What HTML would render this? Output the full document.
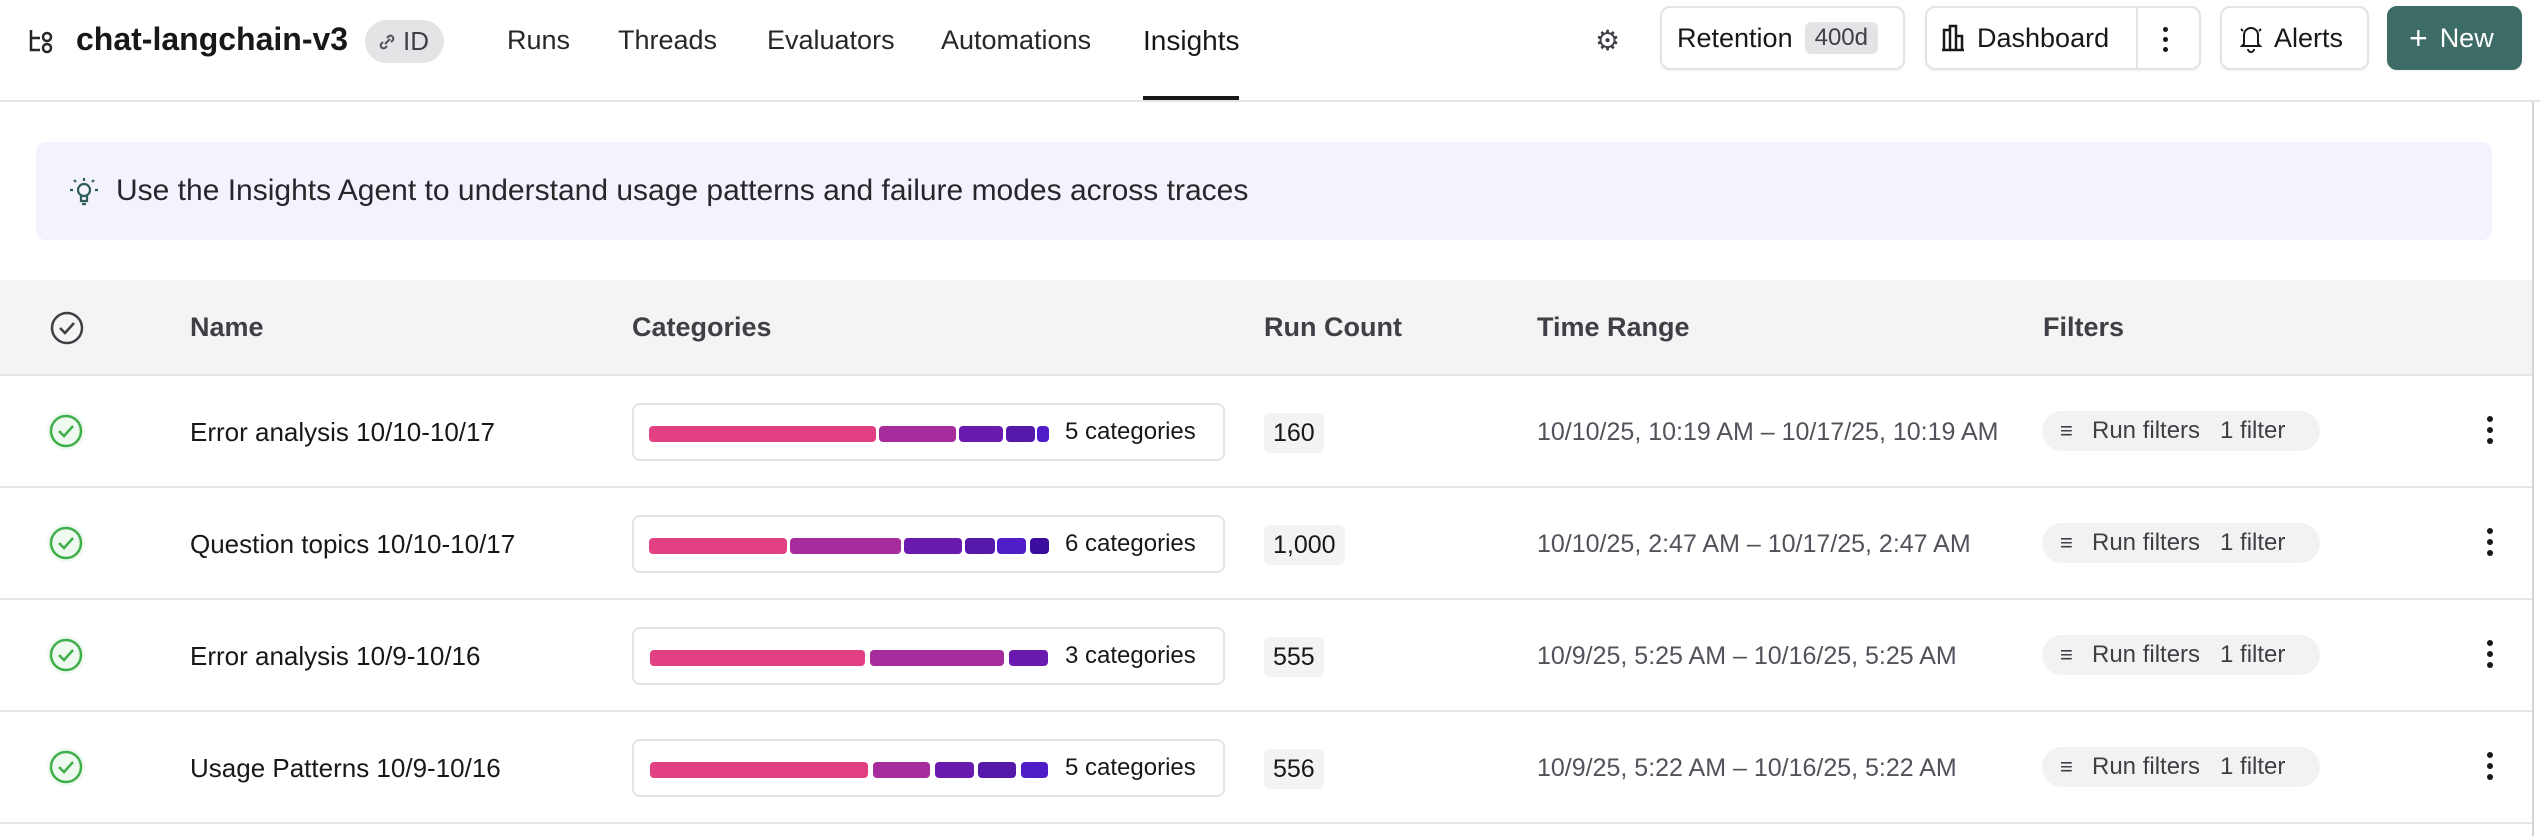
<!DOCTYPE html>
<html><head><meta charset="utf-8"><style>
*{box-sizing:border-box;margin:0;padding:0}
body{width:2540px;height:836px;background:#fff;font-family:"Liberation Sans",sans-serif;color:#18181b;position:relative;overflow:hidden}
.a{position:absolute;white-space:nowrap}
.nav{font-size:27px;top:25px;color:#27272a}
.btn{position:absolute;top:6px;height:64px;border:2px solid #e4e4e7;border-radius:10px;background:#fff;font-size:27px;display:flex;align-items:center;box-shadow:0 1px 2px rgba(0,0,0,.06)}
.th{position:absolute;top:312px;font-size:27px;color:#3f3f46;font-weight:bold}
.row{position:absolute;left:0;width:2532px;height:112px;border-bottom:2px solid #e6e6e6}
.cell{position:absolute;top:2px;height:109px;display:flex;align-items:center;font-size:26px;white-space:nowrap}
.box{position:absolute;left:632px;top:27px;width:593px;height:58px;border:2px solid #e4e4e7;border-radius:8px}
.seg{position:absolute;top:21px;height:16px;border-radius:4px}
.cnt{position:absolute;left:1264px;top:37px;height:40px;padding:0 9px;background:#f3f3f3;border-radius:6px;font-size:25px;line-height:40px}
.pill{position:absolute;left:2042px;top:35px;width:278px;height:40px;border-radius:20px;background:#f2f2f2;font-size:24px;color:#3f3f46;line-height:40px;padding-left:50px}
.kb{position:absolute;left:2487px;top:40px;width:7px}
.kb i{display:block;width:6px;height:6px;border-radius:3px;background:#18181b;margin-bottom:5px}
</style></head><body>
<svg class="a" style="left:28px;top:28px" width="28" height="26" viewBox="0 0 28 26" fill="none" stroke="#27272a" stroke-width="2.5"><path d="M3 2v20h9M3 10h9"/><circle cx="19" cy="9" r="4"/><circle cx="19" cy="20" r="4"/></svg>
<div class="a" style="left:76px;top:21px;font-size:32px;font-weight:bold">chat-langchain-v3</div>
<div class="a" style="left:365px;top:20px;width:79px;height:43px;border-radius:22px;background:#e4e4e7;font-size:26px;line-height:43px;padding-left:38px;color:#3f3f46">ID</div>
<svg class="a" style="left:376px;top:31px" width="22" height="22" viewBox="0 0 22 22" fill="none" stroke="#52525b" stroke-width="2"><path d="M9 13l5-5M7 11l-2 2a3 3 0 004 4l2-2M15 11l2-2a3 3 0 00-4-4l-2 2"/></svg>
<div class="a nav" style="left:507px">Runs</div>
<div class="a nav" style="left:618px">Threads</div>
<div class="a nav" style="left:767px">Evaluators</div>
<div class="a nav" style="left:941px">Automations</div>
<div class="a nav" style="left:1143px;color:#18181b;font-size:28px">Insights</div>
<div class="a" style="left:1143px;top:96px;width:96px;height:4px;background:#18181b"></div>
<div class="a" style="left:0;top:100px;width:2540px;height:2px;background:#e4e4e7"></div>
<div class="a" style="left:1595px;top:24px;font-size:28px;color:#3f3f46">⚙</div>
<div class="btn" style="left:1660px;width:245px;padding-left:15px">Retention<span style="margin-left:12px;background:#e4e4e7;border-radius:6px;padding:2px 10px;font-size:24px;color:#3f3f46">400d</span></div>
<div class="btn" style="left:1925px;width:276px;padding-left:14px"><svg width="26" height="28" viewBox="0 0 26 28" fill="none" stroke="#18181b" stroke-width="2.5"><path d="M3 26V6h6v20M9 26V2h6v24M15 26V12h6v14M1 26h22"/></svg><span style="margin-left:10px">Dashboard</span><span style="position:absolute;left:209px;top:0;width:2px;height:60px;background:#e4e4e7"></span><span style="position:absolute;left:236px;top:19px;width:6px"><i style="display:block;width:5px;height:5px;border-radius:3px;background:#18181b;margin-bottom:5px"></i><i style="display:block;width:5px;height:5px;border-radius:3px;background:#18181b;margin-bottom:5px"></i><i style="display:block;width:5px;height:5px;border-radius:3px;background:#18181b"></i></span></div>
<div class="btn" style="left:2220px;width:149px;padding-left:16px"><svg width="26" height="30" viewBox="0 0 26 30" fill="none" stroke="#18181b" stroke-width="2"><path d="M6 21V12a7 7 0 0114 0v9l2 2H4zM10 26a3 3 0 006 0M3 6l2 2M23 6l-2 2"/></svg><span style="margin-left:10px">Alerts</span></div>
<div class="btn" style="left:2387px;width:135px;background:#3d6b66;border-color:#3d6b66;color:#fff;padding-left:20px"><span style="font-size:32px;margin-right:12px">+</span>New</div>
<div class="a" style="left:36px;top:142px;width:2456px;height:98px;background:#f3f2fd;border-radius:10px"></div>
<svg class="a" style="left:70px;top:177px" width="28" height="30" viewBox="0 0 28 30" fill="none" stroke="#2f5d59" stroke-width="2.2"><circle cx="14" cy="13" r="6"/><path d="M11 19v5h6v-5M12 27h4M14 1v3M3 13H0M28 13h-3M6 5L4 3M22 5l2-2"/></svg>
<div class="a" style="left:116px;top:174px;font-size:30px;color:#27272a">Use the Insights Agent to understand usage patterns and failure modes across traces</div>
<div class="a" style="left:0;top:280px;width:2532px;height:96px;background:#f4f4f4;border-bottom:2px solid #e6e6e6"></div>
<svg class="a" style="left:49px;top:310px" width="36" height="36" viewBox="0 0 36 36" fill="none" stroke="#3f3f46" stroke-width="2.5"><circle cx="18" cy="18" r="15"/><path d="M11 18l5 5 9-10"/></svg>
<div class="th" style="left:190px">Name</div>
<div class="th" style="left:632px">Categories</div>
<div class="th" style="left:1264px">Run Count</div>
<div class="th" style="left:1537px">Time Range</div>
<div class="th" style="left:2043px">Filters</div>
<div class="a" style="left:2532px;top:102px;width:2px;height:734px;background:#d4d4d8"></div>

<div class="row" style="top:376px">
<svg class="a" style="left:46px;top:35px" width="40" height="40" viewBox="0 0 40 40" fill="none"><circle cx="20" cy="20" r="19" fill="#eefaef"/><circle cx="20" cy="20" r="15" stroke="#3fae4b" stroke-width="2.5"/><path d="M13 20l5 5 9-10" stroke="#3fae4b" stroke-width="2.5"/></svg>
<div class="cell" style="left:190px">Error analysis 10/10-10/17</div>
<div class="box"><div class="seg" style="left:15px;width:227px;background:#e34083"></div><div class="seg" style="left:245px;width:77px;background:#a62c9b"></div><div class="seg" style="left:325px;width:44px;background:#6a1aae"></div><div class="seg" style="left:372px;width:29px;background:#5518a8"></div><div class="seg" style="left:403px;width:12px;background:#4f1ec9"></div><div class="a" style="left:431px;top:13px;font-size:24px">5 categories</div></div>
<div class="cnt">160</div>
<div class="cell" style="left:1537px;color:#52525b;font-size:25px">10/10/25, 10:19 AM – 10/17/25, 10:19 AM</div>
<div class="pill"><span style="position:absolute;left:18px;top:0;font-size:22px">≡</span>Run filters&nbsp;&nbsp;&nbsp;1 filter</div>
<div class="kb"><i></i><i></i><i></i></div>
</div>
<div class="row" style="top:488px">
<svg class="a" style="left:46px;top:35px" width="40" height="40" viewBox="0 0 40 40" fill="none"><circle cx="20" cy="20" r="19" fill="#eefaef"/><circle cx="20" cy="20" r="15" stroke="#3fae4b" stroke-width="2.5"/><path d="M13 20l5 5 9-10" stroke="#3fae4b" stroke-width="2.5"/></svg>
<div class="cell" style="left:190px">Question topics 10/10-10/17</div>
<div class="box"><div class="seg" style="left:15px;width:138px;background:#e34083"></div><div class="seg" style="left:156px;width:111px;background:#a62c9b"></div><div class="seg" style="left:270px;width:58px;background:#6a1aae"></div><div class="seg" style="left:331px;width:30px;background:#5518a8"></div><div class="seg" style="left:363px;width:29px;background:#4f1ec9"></div><div class="seg" style="left:396px;width:19px;background:#3a0d9e"></div><div class="a" style="left:431px;top:13px;font-size:24px">6 categories</div></div>
<div class="cnt">1,000</div>
<div class="cell" style="left:1537px;color:#52525b;font-size:25px">10/10/25, 2:47 AM – 10/17/25, 2:47 AM</div>
<div class="pill"><span style="position:absolute;left:18px;top:0;font-size:22px">≡</span>Run filters&nbsp;&nbsp;&nbsp;1 filter</div>
<div class="kb"><i></i><i></i><i></i></div>
</div>
<div class="row" style="top:600px">
<svg class="a" style="left:46px;top:35px" width="40" height="40" viewBox="0 0 40 40" fill="none"><circle cx="20" cy="20" r="19" fill="#eefaef"/><circle cx="20" cy="20" r="15" stroke="#3fae4b" stroke-width="2.5"/><path d="M13 20l5 5 9-10" stroke="#3fae4b" stroke-width="2.5"/></svg>
<div class="cell" style="left:190px">Error analysis 10/9-10/16</div>
<div class="box"><div class="seg" style="left:16px;width:215px;background:#e34083"></div><div class="seg" style="left:236px;width:134px;background:#a62c9b"></div><div class="seg" style="left:375px;width:39px;background:#6a1aae"></div><div class="a" style="left:431px;top:13px;font-size:24px">3 categories</div></div>
<div class="cnt">555</div>
<div class="cell" style="left:1537px;color:#52525b;font-size:25px">10/9/25, 5:25 AM – 10/16/25, 5:25 AM</div>
<div class="pill"><span style="position:absolute;left:18px;top:0;font-size:22px">≡</span>Run filters&nbsp;&nbsp;&nbsp;1 filter</div>
<div class="kb"><i></i><i></i><i></i></div>
</div>
<div class="row" style="top:712px">
<svg class="a" style="left:46px;top:35px" width="40" height="40" viewBox="0 0 40 40" fill="none"><circle cx="20" cy="20" r="19" fill="#eefaef"/><circle cx="20" cy="20" r="15" stroke="#3fae4b" stroke-width="2.5"/><path d="M13 20l5 5 9-10" stroke="#3fae4b" stroke-width="2.5"/></svg>
<div class="cell" style="left:190px">Usage Patterns 10/9-10/16</div>
<div class="box"><div class="seg" style="left:16px;width:218px;background:#e34083"></div><div class="seg" style="left:239px;width:57px;background:#a62c9b"></div><div class="seg" style="left:301px;width:39px;background:#6a1aae"></div><div class="seg" style="left:344px;width:38px;background:#5518a8"></div><div class="seg" style="left:387px;width:27px;background:#4f1ec9"></div><div class="a" style="left:431px;top:13px;font-size:24px">5 categories</div></div>
<div class="cnt">556</div>
<div class="cell" style="left:1537px;color:#52525b;font-size:25px">10/9/25, 5:22 AM – 10/16/25, 5:22 AM</div>
<div class="pill"><span style="position:absolute;left:18px;top:0;font-size:22px">≡</span>Run filters&nbsp;&nbsp;&nbsp;1 filter</div>
<div class="kb"><i></i><i></i><i></i></div>
</div>
</body></html>
